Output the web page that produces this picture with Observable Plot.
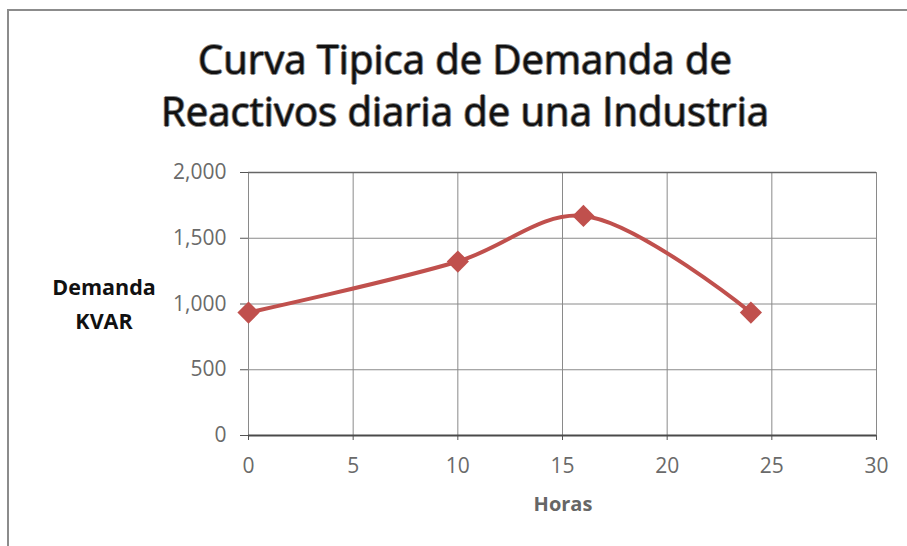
<!DOCTYPE html>
<html><head><meta charset="utf-8">
<script src="https://cdn.jsdelivr.net/npm/d3@7"></script>
<script src="https://cdn.jsdelivr.net/npm/@observablehq/plot@0.6"></script>
<style>
body{margin:0;background:#fff;overflow:hidden;}
#wrap{position:relative;width:907px;height:546px;overflow:hidden;font-family:"Open Sans",sans-serif;}
#ftop{position:absolute;left:7px;top:9px;width:900px;height:2px;background:#8c8c8c;}
#fleft{position:absolute;left:7px;top:9px;width:2px;height:537px;background:#8c8c8c;}
#title{position:absolute;left:0;width:930px;top:33px;text-align:center;font-size:40px;font-weight:400;line-height:52px;color:#111;text-shadow:1px 0 0 #888,-1px 0 0 #888,0 1px 0 #888,0 -1px 0 #888;}
.lab{position:absolute;font-weight:700;text-align:center;}
#plot{position:absolute;left:0;top:0;}
</style></head>
<body><div id="wrap">
<div id="ftop"></div><div id="fleft"></div>
<div id="title">Curva Tipica de Demanda de<br>Reactivos diaria de una Industria</div>
<div class="lab" id="ylab" style="left:34px;top:270px;width:140px;line-height:34px;font-size:21.5px;color:#111;">Demanda<br>KVAR</div>
<div class="lab" id="xlab" style="left:513px;top:490px;width:100px;font-size:20px;color:#666;">Horas</div>
<div id="plot"></div>
</div>
<script>
const horas = [0, 10, 16, 24];
const demanda = [935, 1323, 1670, 935];
const xTicks = [0, 5, 10, 15, 20, 25, 30];
const yTicks = [0, 500, 1000, 1500, 2000];
const data = horas.map((h, i) => ({h, d: demanda[i]}));
const red = "#c0504d";
const chart = Plot.plot({
  width: 907, height: 546,
  marginLeft: 248, marginRight: 31, marginTop: 172, marginBottom: 111,
  style: {fontFamily: "'Open Sans', sans-serif", fontSize: "21px", color: "#6a6a6a", background: "transparent"},
  x: {domain: [0, 30], ticks: xTicks, label: null},
  y: {domain: [0, 2000], ticks: yTicks, label: null, tickFormat: d3.format(",")},
  marks: [
    Plot.gridX(xTicks, {stroke: "#8a8a8a", strokeOpacity: 1, strokeWidth: 1}),
    Plot.gridY(yTicks, {stroke: "#8a8a8a", strokeOpacity: 1, strokeWidth: 1}),
    Plot.axisX({ticks: xTicks, tickSize: 5, tickPadding: 18, stroke: "#555"}),
    Plot.axisY({ticks: yTicks, tickSize: 8, tickPadding: 14, tickFormat: d3.format(","), stroke: "#555"}),
    Plot.ruleY([0], {stroke: "#4a4a4a", strokeWidth: 2}),
    Plot.ruleY([2000], {stroke: "#666", strokeWidth: 1.5}),
    Plot.line(data, {x: "h", y: "d", stroke: red, strokeWidth: 4, curve: "catmull-rom"}),
    Plot.dot(data, {x: "h", y: "d", symbol: "diamond2", fill: red, r: 10})
  ]
});
document.getElementById("plot").appendChild(chart);
</script>
</body></html>
